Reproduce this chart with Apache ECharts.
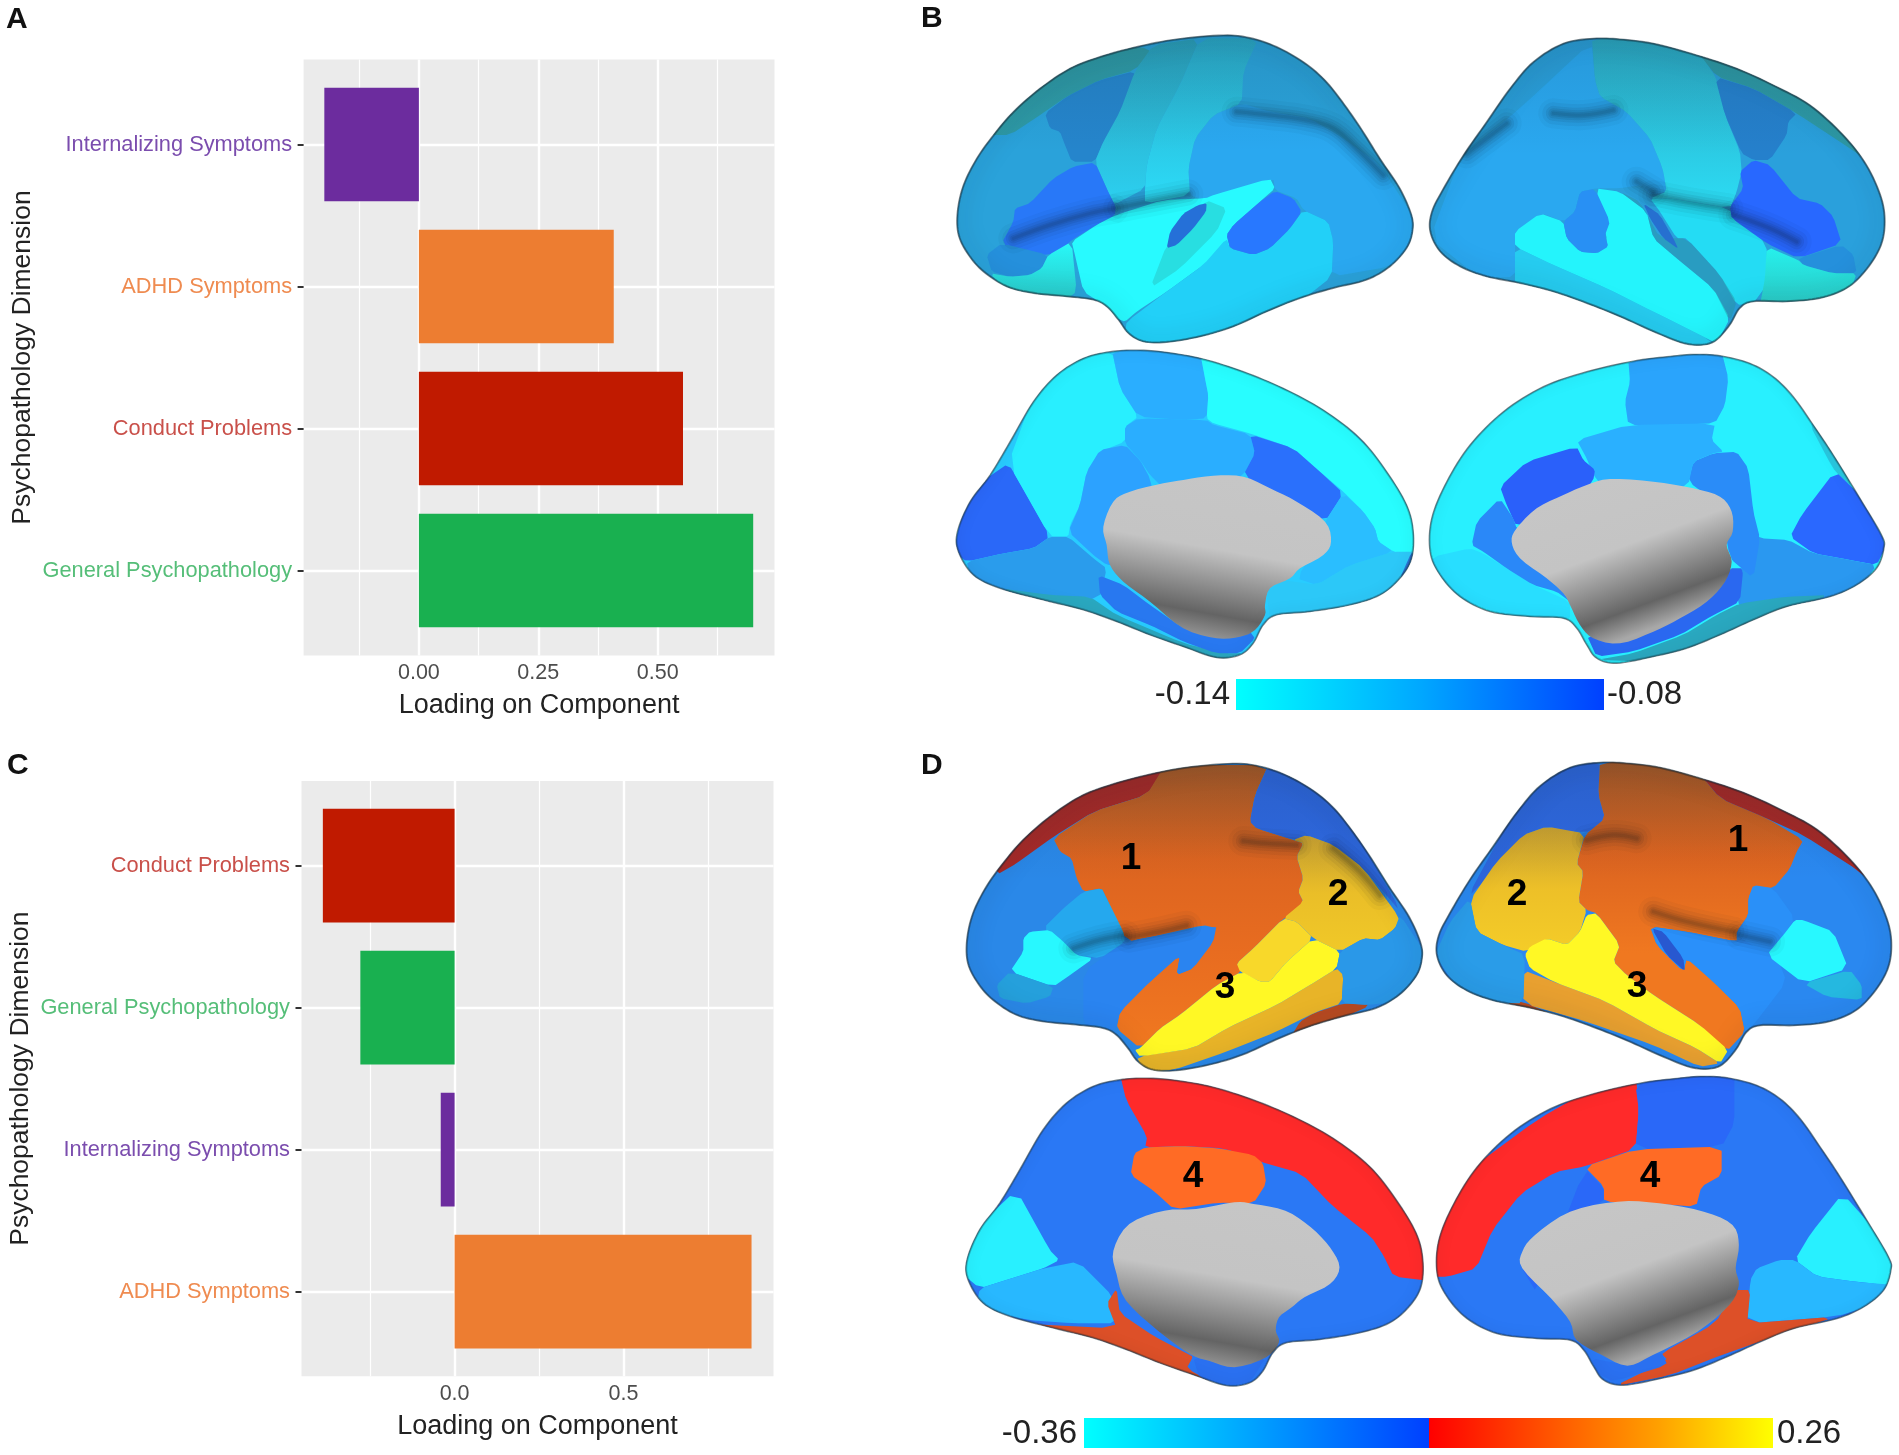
<!DOCTYPE html>
<html>
<head>
<meta charset="utf-8">
<title>Loadings and cortical maps</title>
<style>
  html, body { margin: 0; padding: 0; background: #fff; }
  #chart { width: 1899px; height: 1455px; }
</style>
<script src="https://cdn.jsdelivr.net/npm/echarts@6/dist/echarts.min.js"></script>
</head>
<body>
<div id="chart"></div>
<script>
// ===== Bar panel data =====
const catsA = ['Internalizing Symptoms', 'ADHD Symptoms', 'Conduct Problems', 'General Psychopathology'];
const valsA = [-0.198, 0.408, 0.553, 0.700];
const majorA = [0, 0.25, 0.5];
const minorA = [-0.125, 0.125, 0.375, 0.625];

const catsC = ['Conduct Problems', 'General Psychopathology', 'Internalizing Symptoms', 'ADHD Symptoms'];
const valsC = [-0.390, -0.279, -0.041, 0.879];
const majorC = [0, 0.5];
const minorC = [-0.25, 0.25, 0.75];

const barColors = {
  'Internalizing Symptoms': '#6C2C9E', 'ADHD Symptoms': '#ED7D31',
  'Conduct Problems': '#C01A00', 'General Psychopathology': '#19B050',
};
const labelColors = {
  'Internalizing Symptoms': '#7B4DAE', 'ADHD Symptoms': '#EF8B50',
  'Conduct Problems': '#C9504A', 'General Psychopathology': '#55BE78',
};

// ===== Colour bars =====
const barB = { low: '-0.14', high: '-0.08', stops: ['#00FFFF', '#00A8FF', '#0040FF'] };
const barD = { low: '-0.36', high: '0.26', cold: ['#00FFFF', '#00A0FF', '#0040FF'], hot: ['#FF0000', '#FF5000', '#FFA000', '#FFFF00'] };

const latL = [820,30,900,38,980,65,1060,110,1120,160,1170,220,1230,305,1290,400,1350,490,1385,570,1388,620,1370,670,1320,725,1250,765,1150,790,1050,820,950,860,850,905,750,935,650,952,580,950,535,925,505,885,470,845,430,825,350,815,250,805,170,785,100,740,55,690,25,630,22,560,40,480,80,400,130,330,190,260,270,190,360,130,450,95,560,65,680,42];
const latR = [520,40,600,42,700,55,830,90,950,130,1060,180,1170,240,1270,330,1340,420,1385,520,1395,600,1380,670,1335,740,1280,790,1200,820,1100,830,1000,830,960,850,930,900,890,945,850,960,790,955,700,920,600,875,500,835,400,800,300,775,200,755,120,725,60,680,30,620,35,560,70,490,130,390,200,290,270,190,340,110,430,55];
const medL = [560,15,650,22,760,42,880,80,1000,130,1120,195,1230,280,1310,380,1370,480,1390,560,1385,640,1350,700,1290,750,1200,780,1080,800,980,810,940,840,910,895,870,930,800,938,700,905,600,870,500,830,400,795,280,765,150,730,70,690,25,620,22,560,60,470,120,390,180,290,250,170,320,90,400,40,480,20];
const medR = [820,28,900,32,990,55,1060,95,1120,155,1180,240,1240,330,1320,460,1385,570,1392,610,1370,670,1310,720,1230,755,1100,785,1000,825,900,870,800,910,700,935,590,955,530,940,500,900,470,850,430,820,330,815,210,800,120,755,60,690,30,620,35,520,80,410,150,300,250,200,370,125,500,80,640,48,740,35];
const wallL = [790,392,880,395,960,430,1040,470,1125,530,1143,590,1120,630,1050,670,1020,700,960,730,945,780,945,810,915,855,870,875,800,880,700,850,600,770,520,710,480,660,470,600,460,545,490,470,540,440,640,415,700,405];
const wallR = [570,402,700,410,820,430,900,455,935,500,938,560,920,600,935,650,915,710,860,770,780,820,700,860,600,895,520,880,480,840,450,780,430,745,380,700,300,640,275,590,290,550,350,490,430,450,500,420];

// older, rougher trace of the medial walls for panel D
const wallLOld = [525,427,555,432,605,452,645,502,675,562,690,622,675,672,635,712,615,742,595,772,590,812,595,847,575,892,525,922,485,902,455,882,405,812,355,722,340,642,335,572,360,492,415,452,465,447];
const wallROld = [1127,425,1192,430,1262,455,1307,495,1317,555,1312,625,1317,675,1302,735,1252,815,1182,885,1142,917,1102,885,1062,840,1052,785,1022,715,977,625,977,575,997,525,1052,455];

const shift = (pts, dx, dy) => pts.map((v, i) => v + (i % 2 ? dy : dx));

const GRAY_L = ['#C6C6C6', '#C4C4C4', '#646464', '#9A9A9A'];
const GRAY_R = ['#C6C6C6', '#C4C4C4', '#646464', '#A8A8A8'];

const viewB1 = {
  ox: 950, oy: 25, outline: latL, base: '#2AA2DA', rim: 1,
  regions: [
    ['#2AA8F0', [875,235,960,260,1080,280,1180,340,1290,420,1400,590,1388,660,1320,725,1145,755,1150,650,1135,590,1060,555,1040,520,975,495,970,460,830,510,760,525,720,510,715,430,735,340,790,270]],
    ['#2E9BA8', [610,70,555,135,450,165,350,215,285,260,180,330,100,330,200,200,400,60]],
    ['#2585CC', [555,138,545,190,510,260,490,310,460,350,435,410,365,410,345,360,330,320,300,310,285,265,350,215,450,165]],
    [['#2AA0BC', '#2CD0F0'], [610,60,750,40,690,180,620,310,590,420,585,490,490,540,470,490,435,410,460,350,510,260,555,138]],
    [['#2AA8C8', '#2CDCF8'], [750,40,925,40,880,140,875,235,790,270,735,340,715,430,720,510,585,535,585,490,590,420,620,310,690,180]],
    ['#2878F8', [435,412,470,490,497,545,495,570,440,600,365,645,340,670,295,690,230,685,155,655,190,590,195,550,240,535,310,460,370,425]],
    ['#2590DC', [155,655,295,690,275,730,240,750,180,755,125,740,110,690]],
    [['#28F8F8', '#2AC8C8'], [295,690,365,650,380,800,340,830,170,800,120,745,180,755,240,750,275,730]],
    ['#28FAFF', [497,570,640,525,768,520,790,510,960,460,975,490,930,530,850,600,830,630,840,670,760,720,650,800,560,860,525,890,500,880,470,845,400,800,375,690,365,650,440,600]],
    ['#22D0F8', [830,640,840,670,910,690,960,670,1020,610,1060,555,1135,590,1150,650,1145,755,1050,830,850,915,700,960,580,965,525,925,530,890,650,800,760,720]],
    ['rgba(40,170,170,0.35)', [768,525,830,550,800,620,690,730,600,790,650,660,720,600]],
    ['#2570D8', [770,535,768,560,730,610,680,660,650,670,660,620,700,565,745,540]],
    ['#2878FF', [975,498,1030,520,1055,560,1020,610,960,670,910,690,840,670,830,630,850,600,930,530]],
  ],
  sulci: [
    [505,548,600,530,715,508],
    [860,260,960,270,1070,285,1150,310,1220,370,1300,450],
    [190,640,300,600,420,565,490,552],
  ],
};

const viewB2 = {
  ox: 1420, oy: 25, outline: latR, base: '#2AA0DC', rim: 1,
  regions: [
    ['#2AA8F0', [515,50,525,165,540,215,620,260,690,340,720,410,730,440,740,500,690,510,665,480,600,490,530,490,480,500,465,560,430,590,365,565,290,620,285,670,285,755,180,760,30,640,120,400,300,250]],
    [['#2BA8C4', '#2CDCF4'], [515,30,830,70,890,160,915,270,960,380,965,440,950,500,930,550,750,520,690,520,740,500,730,440,720,410,690,340,620,260,540,215,525,165]],
    ['#2E9BA8', [825,70,890,155,1000,190,1130,265,1290,370,1400,450,1300,280,1000,110]],
    ['#2580CC', [885,155,1000,190,1130,265,1105,290,1100,330,1050,405,1000,405,965,385,915,270]],
    ['#24DCF4', [690,520,750,520,930,550,1040,655,1040,780,1000,835,950,840,900,750,800,640,770,640,720,560]],
    ['#2868FF', [1000,405,1050,420,1130,520,1200,535,1240,575,1265,655,1135,700,1040,655,935,580,930,545,970,490,960,440]],
    ['#2590DC', [1265,660,1300,690,1310,745,1240,745,1150,720,1135,700]],
    ['#26CCF0', [285,665,400,720,560,790,700,860,880,950,850,975,700,930,500,850,285,785]],
    ['#24F4FC', [285,620,360,565,430,590,440,640,480,680,530,685,565,660,525,490,600,500,680,560,700,640,770,700,880,790,930,880,890,955,880,950,700,860,560,790,400,720,285,665]],
    ['rgba(40,150,160,0.45)', [600,500,660,530,720,640,800,640,900,750,950,830,930,890,880,790,770,700,700,640,680,560]],
    [['#26F0EC', '#2AC8C4'], [1040,665,1135,705,1150,720,1240,745,1310,745,1290,800,1200,830,1020,840,1035,760]],
    ['#2890F4', [480,500,525,492,570,590,555,630,565,665,530,685,480,680,440,640,430,590,465,560]],
    ['#2670D0', [670,535,720,570,760,640,775,672,730,640,690,580]],
  ],
  sulci: [
    [400,265,490,270,580,255],
    [140,385,200,340,260,295],
    [700,510,800,530,925,550],
    [650,470,700,500],
    [940,570,1050,610,1130,650],
  ],
};

const viewB3 = {
  ox: 950, oy: 345, outline: medL, base: '#28CCFF', rim: 0.5,
  regions: [
    ['#2A68F8', [175,355,230,450,300,575,250,610,160,625,50,650,10,620,40,490,110,400]],
    ['#28EFFF', [485,15,510,130,565,215,525,245,525,290,450,320,410,380,390,480,360,540,355,575,300,575,175,355,250,150,350,40]],
    ['#2AAEFF', [485,10,750,20,765,100,775,150,770,220,700,225,565,215,510,130]],
    ['#28FDFF', [750,20,900,70,1120,180,1320,370,1400,540,1395,630,1330,620,1285,590,1275,550,1240,500,1180,440,1110,380,1030,310,900,265,790,235,770,220,775,150,765,100]],
    ['#2AAEFF', [525,245,565,220,770,225,790,240,900,268,915,325,880,390,800,440,650,440,600,390,570,345,525,295]],
    ['#2CA2FF', [410,380,450,315,525,300,570,345,600,400,620,500,520,660,470,660,430,630,355,560,390,480]],
    ['#2A70FC', [900,268,1030,310,1110,380,1180,445,1125,530,1000,470,880,390,915,325]],
    ['#2ABEFF', [1180,445,1240,500,1275,550,1285,590,1330,620,1200,660,1100,720,1040,700,1130,560,1125,530]],
    ['#2CC8F8', [1330,620,1400,620,1360,710,1290,760,1200,790,1080,810,960,825,950,740,1000,705,1100,720,1200,660]],
    ['#2A70D0', [1385,620,1395,640,1360,720,1350,700]],
    ['#2A9CEC', [50,650,160,625,250,610,300,575,355,575,430,640,470,670,450,760,280,775,150,740,60,690]],
    ['#2AA8C0', [150,730,300,750,420,755,500,810,700,895,830,925,880,925,800,950,700,920,500,845,280,780]],
    ['#2878F0', [445,690,520,720,600,780,700,850,810,880,900,860,915,880,870,925,800,925,700,890,600,840,500,800,450,750]],
    [GRAY_L, wallL],
  ],
  sulci: [],
};

const viewB4 = {
  ox: 1420, oy: 345, outline: medR, base: '#28F0FF', rim: 0.5,
  regions: [
    ['#2AA4FC', [625,45,905,20,925,100,915,180,885,235,760,240,625,240,615,170,630,110]],
    ['#28C8E0', [1170,240,1225,345,1245,378,1300,430,1200,220]],
    ['#2A68FF', [1245,378,1320,450,1400,600,1370,660,1290,645,1180,625,1110,575,1145,510]],
    ['#28DEFF', [40,635,150,610,190,625,260,670,340,720,450,770,450,825,300,825,120,765,30,680]],
    ['#2A98F0', [1020,580,1105,585,1180,625,1290,645,1370,660,1320,730,1230,765,1000,800,950,775,970,670,930,640,930,530]],
    ['#2A8CF8', [805,410,820,350,880,325,950,320,985,370,1000,500,1020,580,1000,700,930,640,900,480]],
    ['#2AB0FF', [470,285,625,240,885,235,875,285,910,320,880,325,820,350,805,420,700,450,560,440,520,390,500,340]],
    ['#2A60FA', [240,425,320,350,470,305,490,345,525,375,520,405,450,500,350,500,290,545,260,480]],
    ['#2A88F8', [240,460,280,520,290,550,330,560,330,640,400,700,450,770,410,740,340,720,260,670,190,620,155,600,170,530]],
    ['#2AA8C0', [530,945,640,925,790,870,890,810,960,775,1100,755,1230,750,1100,795,900,880,700,950]],
    ['#2A68F0', [500,870,620,880,780,810,900,720,930,670,970,670,960,770,880,810,780,870,640,920,530,935]],
    [GRAY_R, wallR],
  ],
  sulci: [],
};

const viewD1 = {
  ox: 960, oy: 755, outline: shift(latL, -2, -5), base: '#2A88E8', rim: 1,
  regions: [
    ['#A82A28', [615,40,560,120,400,170,280,245,170,325,110,360,80,250,350,60]],
    [['#A85A28', '#DC6420', '#E86C20', '#F07820'], [615,30,925,30,885,120,870,200,890,220,1000,255,1030,265,1010,305,1030,370,1015,410,1030,440,995,490,970,490,880,580,830,625,845,650,770,690,660,780,600,820,540,880,470,820,480,770,570,680,660,600,650,660,700,640,770,520,730,510,600,540,500,560,440,430,425,400,370,410,350,370,335,310,300,290,280,250,400,170,560,120]],
    ['#2A84F0', [495,560,770,510,760,560,700,640,650,660,660,600,570,680,480,770,465,830,420,810,370,810,370,650]],
    ['#2E68E0', [925,30,1060,80,1170,200,1330,480,1210,340,1120,270,1040,240,1000,255,890,220,870,200,885,120]],
    [['#C8A030', '#EABE28', '#F0C828'], [1000,255,1040,240,1120,270,1210,340,1320,490,1305,520,1260,555,1210,550,1140,590,1060,550,1010,500,970,490,1030,440,1015,410,1030,370,1010,305,1030,265]],
    ['#F8D82A', [970,490,1010,500,1060,550,980,620,930,680,900,680,840,650,830,625,880,580]],
    ['#B84A20', [1060,775,1150,745,1235,750,1100,810,990,850,1020,800]],
    ['#E8B428', [1130,640,1150,660,1145,745,1070,770,950,830,800,890,640,945,550,950,530,905,700,880,800,820,950,750,1050,690]],
    ['#FFF825', [1060,550,1140,590,1130,640,1050,690,950,750,800,820,700,880,540,905,525,885,540,880,600,820,660,780,770,690,845,650,900,680,930,680,980,620]],
    ['#2A98E8', [1140,590,1210,550,1260,555,1305,520,1320,480,1400,600,1380,680,1310,740,1225,750,1145,745,1150,660,1130,640]],
    ['#25A8EE', [425,400,440,430,490,530,495,560,420,610,350,600,310,560,250,520,310,460,370,410]],
    ['#28F8FF', [210,530,270,525,310,560,350,600,400,610,330,660,280,695,150,650,190,590,190,550]],
    ['#25A0DC', [150,650,280,695,270,725,200,745,120,730,110,690]],
  ],
  sulci: [
    [505,548,600,530,680,512],
    [850,258,920,265,1010,270],
    [1120,280,1200,350,1260,420],
    [340,580,420,555,495,540],
  ],
};

const viewD2 = {
  ox: 1420, oy: 755, outline: shift(latR, 20, -18), base: '#2A88F0', rim: 1,
  regions: [
    ['#2E68E0', [540,15,535,120,555,190,510,230,450,230,380,215,310,240,240,330,140,430,270,190,400,50]],
    [['#A85A28', '#DC6420', '#F07820', '#F07820'], [540,15,830,45,900,130,1040,190,1150,255,1130,290,1110,340,1060,400,1000,395,985,430,985,480,950,530,950,560,800,530,690,515,710,570,790,650,800,610,880,680,960,760,975,830,920,890,840,810,700,720,620,660,580,620,600,570,530,475,500,465,475,440,490,350,470,325,495,240,555,190,535,120]],
    ['#A82A28', [830,45,900,130,1040,190,1150,240,1320,350,1420,450,1250,190,950,60]],
    [['#C8A030', '#EDC028', '#F4CC28'], [380,215,495,235,470,325,490,350,475,440,500,465,480,530,440,570,380,550,320,590,250,570,170,530,150,435,230,320,310,240]],
    ['#B84A20', [260,745,310,740,420,790,410,800,300,770]],
    ['#E8A030', [310,645,400,680,560,740,700,820,830,880,900,925,840,935,700,870,500,800,310,745]],
    ['#FFF825', [500,480,530,475,600,570,580,620,620,660,700,720,840,810,925,885,900,925,830,880,700,820,560,740,400,680,330,640,315,600,330,575,380,550,440,570,480,530]],
    ['#2A9CE8', [150,430,170,530,250,570,315,600,310,745,230,745,120,710,45,600,90,500]],
    ['#2A90FA', [695,515,800,530,950,560,1065,590,1100,680,1000,810,975,830,960,760,880,680,800,610,790,650,710,570]],
    ['#2858D0', [695,520,730,530,790,610,795,650,740,600]],
    ['#2A90F8', [1000,390,1060,400,1125,490,1080,560,1040,600,950,540,985,480,985,430]],
    ['#28F8FF', [1125,495,1150,495,1240,530,1285,640,1150,685,1040,600,1090,540]],
    ['#25B8E0', [1150,685,1290,645,1325,690,1325,735,1220,725]],
  ],
  sulci: [
    [500,255,580,240,650,250],
    [700,470,800,500,940,530],
    [960,540,1050,560],
  ],
};

const viewD3 = {
  ox: 959.6, oy: 1073, legacyY: 1060, outline: medL, base: '#2A78F5', rim: 0.5,
  regions: [
    ['#FF2A2A', [345,40,430,30,560,90,680,180,760,310,810,420,840,560,840,665,775,650,760,590,740,530,680,440,630,340,565,305,510,265,440,258,385,262,388,230,355,120]],
    ['#FF6B25', [385,262,440,258,500,265,555,285,570,310,575,370,555,430,500,428,430,448,400,395,362,345,368,280]],
    ['#28F0FF', [183,390,235,570,250,600,225,625,175,655,125,685,85,620,110,520]],
    ['#28B8FF', [125,685,175,655,225,625,280,605,335,710,340,790,270,790,200,780,120,745]],
    ['#DD5028', [340,685,345,760,400,830,450,880,460,890,450,925,510,990,400,930,280,830,180,790,340,805,325,730]],
    ['#2A70F0', [460,890,520,920,575,890,550,965,520,975,470,955]],
    [GRAY_L, wallLOld],
  ],
  sulci: [],
};

const viewD4 = {
  ox: 1427, oy: 1067, legacyY: 1060, outline: medR, base: '#2A78F5', rim: 0.5,
  regions: [
    ['#FF2A2A', [1155,40,1160,150,1155,265,1075,320,1030,335,975,400,930,510,905,625,860,650,825,650,830,490,900,320,1000,180,1100,70]],
    ['#2A68F8', [1155,80,1200,40,1310,40,1310,190,1290,260,1155,268,1160,150]],
    ['#FF6B25', [1075,320,1155,268,1290,260,1290,345,1258,380,1250,440,1180,430,1105,425,1105,380]],
    ['#2A68F8', [1075,325,1105,385,1105,425,1040,470,985,560,975,620,1000,700]],
    ['#28F0FF', [1480,400,1540,530,1570,680,1500,665,1440,650,1405,600,1430,520]],
    ['#28B8FF', [1380,600,1405,600,1440,650,1500,665,1560,675,1535,730,1470,770,1330,790,1335,660,1345,625]],
    ['#DD5028', [1310,690,1335,690,1330,790,1470,770,1380,825,1290,885,1210,945,1120,980,1205,900,1195,880,1280,790]],
    ['#2A70F0', [1085,895,1140,915,1195,875,1205,915,1120,965,1095,940]],
    [GRAY_R, wallROld],
  ],
  sulci: [],
};

const views = [viewB1, viewB2, viewB3, viewB4, viewD1, viewD2, viewD3, viewD4];

// Numbered parcels in panel D: [label, x, y]
const parcelLabels = [
  ['1', 1131, 859], ['2', 1338, 895], ['3', 1225, 988],
  ['1', 1738, 841], ['2', 1517, 895], ['3', 1637, 987],
  ['4', 1193, 1177], ['4', 1650, 1177],
];

// ===== Helpers =====
const FONT = '"Liberation Sans", Arial, sans-serif';

function toPx(flat, ox, oy) {
  const pts = [];
  for (let i = 0; i < flat.length; i += 2) pts.push([ox + flat[i] / 3, oy + flat[i + 1] / 3]);
  return pts;
}

// parcels of the lower D views still come from the first, stretched crops
function regionPx(flat, v) {
  if (v.legacyY === undefined) return toPx(flat, v.ox, v.oy);
  const pts = [];
  for (let i = 0; i < flat.length; i += 2) pts.push([900 + flat[i] / 1.57, v.legacyY + flat[i + 1] / 3]);
  return pts;
}

// closed Catmull-Rom so the outlines come out round
function spline(pts, steps = 8) {
  const out = [], n = pts.length;
  for (let i = 0; i < n; i++) {
    const [p0, p1, p2, p3] = [pts[(i - 1 + n) % n], pts[i], pts[(i + 1) % n], pts[(i + 2) % n]];
    for (let s = 0; s < steps; s++) {
      const t = s / steps, t2 = t * t, t3 = t2 * t;
      out.push([0, 1].map(k => 0.5 * (2 * p1[k] + (p2[k] - p0[k]) * t +
        (2 * p0[k] - 5 * p1[k] + 4 * p2[k] - p3[k]) * t2 + (3 * p1[k] - p0[k] - 3 * p2[k] + p3[k]) * t3)));
    }
  }
  return out;
}

// light corner cutting so parcel edges are not so angular
function soften(pts, r = 0.14) {
  const next = [];
  pts.forEach((p, i) => {
    const q = pts[(i + 1) % pts.length];
    next.push([p[0] + (q[0] - p[0]) * r, p[1] + (q[1] - p[1]) * r]);
    next.push([p[0] + (q[0] - p[0]) * (1 - r), p[1] + (q[1] - p[1]) * (1 - r)]);
  });
  return next;
}

function paint(color) {
  if (!Array.isArray(color)) return color;
  const stops = color === GRAY_L || color === GRAY_R
    ? [0, 0.45, 0.84, 1].map((offset, i) => ({ offset, color: color[i] }))
    : color.map((c, i) => ({ offset: i / (color.length - 1), color: c }));
  if (color === GRAY_L) return new echarts.graphic.LinearGradient(0.55, 0, 0.42, 1, stops);
  if (color === GRAY_R) return new echarts.graphic.LinearGradient(0.3, 0.05, 0.55, 0.95, stops);
  return new echarts.graphic.LinearGradient(0, 0, 0, 1, stops);
}

function renderBrain(params) {
  const v = views[params.dataIndex];
  const outline = spline(toPx(v.outline, v.ox, v.oy));
  const kids = [{ type: 'polygon', shape: { points: outline }, style: { fill: v.base } }];
  v.regions.forEach(([color, flat]) => {
    const pts = regionPx(flat, v);
    const isWall = color === GRAY_L || color === GRAY_R;
    kids.push({ type: 'polygon', shape: { points: isWall ? spline(pts, 4) : soften(pts) }, style: { fill: paint(color) } });
  });
  // soft folds, stacked wide to narrow
  v.sulci.forEach(flat => {
    [[30, 0.03], [22, 0.05], [15, 0.07], [10, 0.08], [6, 0.09], [3, 0.08]].forEach(([w, a]) => kids.push({
      type: 'polyline', shape: { points: toPx(flat, v.ox, v.oy), smooth: 0.4 },
      style: { fill: 'none', stroke: `rgba(10,20,30,${a})`, lineWidth: w, lineCap: 'round', lineJoin: 'round' },
    }));
  });
  // top of the lateral views falls into shade
  if (v.rim === 1) {
    kids.push({
      type: 'polygon', shape: { points: outline },
      style: { fill: new echarts.graphic.LinearGradient(0, 0, 0, 1, [
        { offset: 0, color: 'rgba(20,40,50,0.12)' }, { offset: 0.38, color: 'rgba(20,40,50,0)' },
      ]) },
    });
  }
  // darker rim, stronger on the lateral views
  kids.push({
    type: 'polygon', shape: { points: outline },
    style: { fill: 'none', stroke: `rgba(15,30,40,${0.3 * v.rim + 0.1})`, lineWidth: 3, shadowBlur: 18 * v.rim + 4, shadowColor: `rgba(15,30,40,${0.8 * v.rim + 0.1})` },
  });
  return {
    type: 'group',
    children: [
      { type: 'group', clipPath: { type: 'polygon', shape: { points: outline } }, children: kids },
      { type: 'polygon', shape: { points: outline }, style: { fill: 'none', stroke: 'rgba(40,60,70,0.6)', lineWidth: 1.2 } },
    ],
  };
}

function hGradient(stops) {
  return new echarts.graphic.LinearGradient(0, 0, 1, 0,
    stops.map((c, i) => ({ offset: i / (stops.length - 1), color: c })));
}

function text(str, x, y, size, opts = {}) {
  return {
    type: 'text', x, y, z: 100,
    style: Object.assign({ text: str, font: `${opts.weight || 'normal'} ${size}px ${FONT}`, fill: '#111', align: 'left', verticalAlign: 'middle' }, opts.style),
  };
}

// ===== Axes =====
const panelX = (gridIndex, min, max, ticks, digits) => [
  { // labelled major gridlines
    type: 'value', gridIndex, min, max, position: 'bottom',
    name: 'Loading on Component', nameLocation: 'middle', nameGap: 37,
    nameTextStyle: { fontFamily: FONT, fontSize: 27, color: '#222' },
    axisLine: { show: false },
    axisTick: { show: false, customValues: ticks.major },
    axisLabel: { show: true, customValues: ticks.major, fontFamily: FONT, fontSize: 21.5, color: '#4D4D4D', margin: 7, formatter: v => v.toFixed(digits) },
    splitLine: { show: true, lineStyle: { color: '#fff', width: 2.4 } },
  },
  { // thin minor gridlines
    type: 'value', gridIndex, min, max, position: 'top',
    axisLine: { show: false }, axisTick: { show: false, customValues: ticks.minor },
    axisLabel: { show: false, customValues: ticks.minor },
    splitLine: { show: true, lineStyle: { color: '#fff', width: 1.2 } },
  },
  { type: 'value', gridIndex: gridIndex + 1, min, max, show: false },
];

const panelY = (gridIndex, cats) => [
  { type: 'value', gridIndex, min: 0, max: 1, show: false },
  {
    type: 'category', gridIndex: gridIndex + 1, data: cats, inverse: true,
    name: 'Psychopathology Dimension', nameLocation: 'middle', nameGap: 267,
    nameTextStyle: { fontFamily: FONT, fontSize: 26.5, color: '#222' },
    axisLine: { show: false, onZero: false },
    axisTick: { show: true, alignWithLabel: true, length: 6, lineStyle: { color: '#333', width: 2 } },
    axisLabel: { fontFamily: FONT, fontSize: 21.8, margin: 11.5, padding: [3, 0, 0, 0], color: v => labelColors[v] },
    splitLine: { show: true, alignWithLabel: true, lineStyle: { color: '#fff', width: 2.4 } },
  },
];

const barSeries = (xAxisIndex, yAxisIndex, cats, vals) => ({
  type: 'bar', xAxisIndex, yAxisIndex, barWidth: '80%', z: 3,
  data: vals.map((v, i) => ({ value: v, itemStyle: { color: barColors[cats[i]] } })),
});

const panelBg = { show: true, backgroundColor: '#EBEBEB', borderWidth: 0 };

// ===== Overlay text and colour bars =====
const overlay = [
  text('A', 6, 20, 30, { weight: 'bold' }),
  text('B', 921, 19, 30, { weight: 'bold' }),
  text('C', 7, 766, 30, { weight: 'bold' }),
  text('D', 921, 766, 30, { weight: 'bold' }),
  { type: 'rect', z: 100, shape: { x: 1236, y: 679, width: 368, height: 31 }, style: { fill: hGradient(barB.stops) } },
  text(barB.low, 1230, 695, 33, { style: { align: 'right', fill: '#222' } }),
  text(barB.high, 1607, 695, 33, { style: { fill: '#222' } }),
  { type: 'rect', z: 100, shape: { x: 1084, y: 1418, width: 345, height: 30 }, style: { fill: hGradient(barD.cold) } },
  { type: 'rect', z: 100, shape: { x: 1429, y: 1418, width: 344, height: 30 }, style: { fill: hGradient(barD.hot) } },
  text(barD.low, 1077, 1434, 33, { style: { align: 'right', fill: '#222' } }),
  text(barD.high, 1777, 1434, 33, { style: { fill: '#222' } }),
].concat(parcelLabels.map(([s, x, y]) =>
  text(s, x, y, 37, { weight: 'bold', style: { align: 'center', fill: '#000' } })));

const chart = echarts.init(document.getElementById('chart'), null, { renderer: 'canvas' });
chart.setOption({
  animation: false,
  backgroundColor: '#fff',
  grid: [
    { left: 303.6, width: 470.9, top: 59.6, height: 595.9, ...panelBg },
    { left: 303.6, width: 470.9, top: 73.5, height: 568 },
    { left: 301.5, width: 472, top: 780.9, height: 595.4, ...panelBg },
    { left: 301.5, width: 472, top: 794.6, height: 568 },
  ],
  xAxis: [
    ...panelX(0, -0.2414, 0.7446, { major: majorA, minor: minorA }, 2),
    ...panelX(2, -0.4532, 0.944, { major: majorC, minor: minorC }, 1),
  ],
  yAxis: [...panelY(0, catsA), ...panelY(2, catsC)],
  series: [
    barSeries(2, 1, catsA, valsA),
    barSeries(5, 3, catsC, valsC),
    { type: 'custom', coordinateSystem: 'none', silent: true, data: views.map((v, i) => i), renderItem: renderBrain, z: 5 },
  ],
  graphic: { elements: overlay },
});
</script>
</body>
</html>
